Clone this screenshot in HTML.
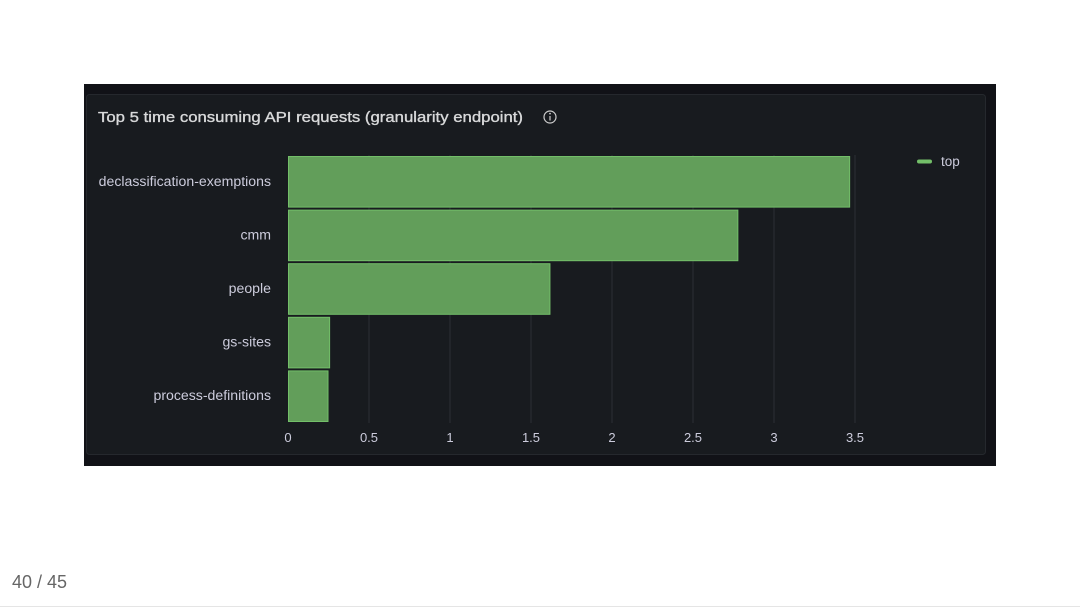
<!DOCTYPE html>
<html><head><meta charset="utf-8"><style>
body{margin:0;width:1080px;height:608px;background:#fff;position:relative;overflow:hidden;font-family:"Liberation Sans",sans-serif}
#outer{position:absolute;left:84px;top:84px;width:912px;height:382px;background:#111217}
#pager{position:absolute;left:12px;top:572px;font-size:18px;color:#666}
#rule{position:absolute;left:0;top:606px;width:1080px;height:1px;background:#e5e5e5}
</style></head><body>
<div id="outer"></div>
<svg id="chart" width="1080" height="608" style="position:absolute;left:0;top:0">
<rect x="86.5" y="94.5" width="899" height="360" rx="3" fill="#181b1f" stroke="#25282d"/>
<text x="98" y="122" font-size="15" fill="#d8d9da" stroke="#d8d9da" stroke-width="0.35" textLength="425" lengthAdjust="spacingAndGlyphs">Top 5 time consuming API requests (granularity endpoint)</text>
<g><circle cx="550" cy="117" r="6" fill="none" stroke="#ccc" stroke-width="1.2"/><line x1="550" y1="116" x2="550" y2="120.5" stroke="#ccc" stroke-width="1.2"/><circle cx="550" cy="113.6" r="0.9" fill="#ccc"/></g>
<g id="grid"></g><g id="bars"></g><g id="ylabels"></g><g id="xticks"></g>
<g><rect x="917" y="159.5" width="15" height="4" rx="2" fill="#73bf69"/><text x="941" y="166" font-size="13.5" fill="#ccccdc">top</text></g>
</svg>
<div id="pager">40 / 45</div>
<div id="rule"></div>
<script>
const categories=["declassification-exemptions","cmm","people","gs-sites","process-definitions"];
const values=[3.47,2.78,1.62,0.26,0.25];
const ticks=[0,0.5,1,1.5,2,2.5,3,3.5];
const tickLabels=["0","0.5","1","1.5","2","2.5","3","3.5"];
const NS="http://www.w3.org/2000/svg";
const x0=288,pxPerUnit=162,yTop=155,yBot=423;
const band=(yBot-yTop)/categories.length;
function xs(v){return x0+v*pxPerUnit;}
function yb(i){return yTop+i*band;}
function mk(t,a,p){const e=document.createElementNS(NS,t);for(const k in a)e.setAttribute(k,a[k]);p.appendChild(e);return e;}
const g=document.getElementById('grid'),b=document.getElementById('bars'),yl=document.getElementById('ylabels'),xt=document.getElementById('xticks');
ticks.forEach((t,i)=>{
 if(i>0){const l=mk('line',{x1:xs(t),x2:xs(t),y1:yTop,y2:yBot,stroke:'#2c2f35','stroke-width':1},g);
 
 }
 const tx=mk('text',{x:xs(t),y:442,'font-size':13,fill:'#ccccdc','text-anchor':'middle'},xt);
 tx.textContent=tickLabels[i];
 
 
});
categories.forEach((c,i)=>{
 const r=mk('rect',{x:x0+0.5,y:yb(i)+1.5,width:xs(values[i])-x0-1,height:band-3,fill:'#629e5a',stroke:'#73bf69','stroke-width':1},b);
 
 
 const t=mk('text',{x:271,y:yb(i)+band/2+4,'font-size':14.1,fill:'#ccccdc','text-anchor':'end'},yl);
 t.textContent=c;
 
 
});
</script>
</body></html>
